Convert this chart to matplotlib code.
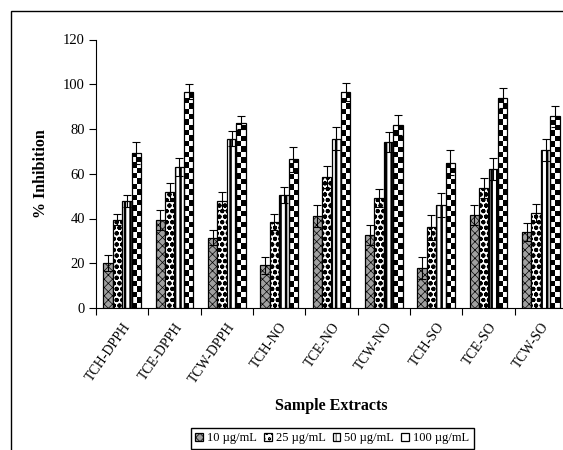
from matplotlib import pyplot as plt
from matplotlib.patches import Rectangle
import numpy as np

plt.rcParams['font.family'] = ['Liberation Serif', 'DejaVu Serif']

# chart data
samples = ['TCH-DPPH', 'TCE-DPPH', 'TCW-DPPH', 'TCH-NO', 'TCE-NO',
           'TCW-NO', 'TCH-SO', 'TCE-SO', 'TCW-SO']
doses = ['10 µg/mL', '25 µg/mL', '50 µg/mL', '100 µg/mL']

inh_10 = [20, 39.5, 31.5, 19, 41, 32.7, 18, 41.6, 34]
err_10 = [3.5, 4.5, 3.3, 4, 5, 4.5, 5, 4.4, 4]
inh_25 = [39.5, 52, 48, 38.5, 58.5, 49, 36, 53.6, 42.5]
err_25 = [2.5, 4, 4, 3.5, 5, 4, 5.5, 4.4, 4]
inh_50 = [48, 63, 75.7, 50.5, 75.7, 74, 46, 62, 70.5]
err_50 = [2.7, 4, 3.3, 3.5, 5, 4.5, 5.3, 5, 5]
inh_100 = [69.3, 96.6, 82.9, 66.5, 96.7, 81.6, 65, 94, 85.6]
err_100 = [5, 3.4, 3, 5.5, 4, 4.5, 5.5, 4.5, 4.5]

series = [inh_10, inh_25, inh_50, inh_100]
errors = [err_10, err_25, err_50, err_100]

W = 0.18
CHECK = 2.4   # checker cell height in data units

fig = plt.figure(figsize=(5.63, 4.5), dpi=100)
ax = fig.add_axes([96 / 563, 1 - 308 / 450, 471 / 563, 268.5 / 450])

x = np.arange(len(samples))
styles = [
    dict(color='#a0a0a0', hatch='xxxx', hlw=0.5),
    dict(color='white', hatch='ooo', hlw=1.4),
    dict(color='white', hatch='|||', hlw=1.8),
    dict(color='none', hatch=None, hlw=0.5),
]

handles = []
for i, (vals, errs, st) in enumerate(zip(series, errors, styles)):
    pos = x + (i - 1.5) * W
    plt.rcParams['hatch.linewidth'] = st['hlw']
    bars = ax.bar(pos, vals, W, color=st['color'], edgecolor='black',
                  linewidth=0.9, hatch=st['hatch'], label=doses[i], zorder=3)
    for b in bars:
        if hasattr(b, 'set_hatch_linewidth'):
            b.set_hatch_linewidth(st['hlw'])
    handles.append(bars)
    if i == 3:
        # checkerboard fill for the 100 µg/mL bars
        for b in bars:
            nrow = int(np.ceil(b.get_height() / CHECK))
            board = np.indices((nrow, 2)).sum(axis=0) % 2
            im = ax.imshow(board, cmap='gray', interpolation='nearest',
                           origin='lower', aspect='auto',
                           extent=[b.get_x(), b.get_x() + b.get_width(),
                                   0, nrow * CHECK], zorder=2)
            im.set_clip_path(b)
    ax.errorbar(pos, vals, yerr=errs, fmt='none', ecolor='black',
                elinewidth=0.8, capsize=3, capthick=0.8, zorder=5)

ax.set_xlim(-0.5, len(samples) - 0.5)
ax.set_ylim(0, 120)
ax.set_yticks(np.arange(0, 121, 20))
ax.set_xticks(np.arange(len(samples) + 1) - 0.5)
ax.set_xticklabels([])
ax.set_xticks(x, minor=True)
ax.set_xticklabels(samples, minor=True, rotation=55, ha='right', va='top',
                   rotation_mode='anchor', fontsize=10)
ax.tick_params(axis='x', which='minor', length=0, pad=9)
ax.tick_params(axis='x', which='major', length=5, width=0.8)
ax.tick_params(axis='y', length=5, width=0.8, labelsize=10.5, pad=3)
for s in ['top', 'right']:
    ax.spines[s].set_visible(False)
for s in ['left', 'bottom']:
    ax.spines[s].set_linewidth(0.8)

ax.set_ylabel('% Inhibition', fontsize=11.5, fontweight='bold', labelpad=10)
fig.text(331 / 563, 1 - 406 / 450, 'Sample Extracts', fontsize=11.5,
         fontweight='bold', ha='center', va='center')

fig.legend(handles=handles, labels=doses, loc='upper left',
           bbox_to_anchor=(191 / 563, 1 - 428 / 450), ncol=4, fontsize=9,
           frameon=True, fancybox=False, edgecolor='black', framealpha=1,
           handlelength=0.6, handleheight=0.6, handletextpad=0.35,
           columnspacing=0.55, borderpad=0.35, borderaxespad=0)

# outer frame (only left and top edges fall inside the picture)
fig.patches.append(Rectangle((11 / 563, -0.1), 1.2, 1.1 - 11 / 450,
                             transform=fig.transFigure, fill=False,
                             edgecolor='black', linewidth=1))

fig.savefig('out.png', dpi=100)
